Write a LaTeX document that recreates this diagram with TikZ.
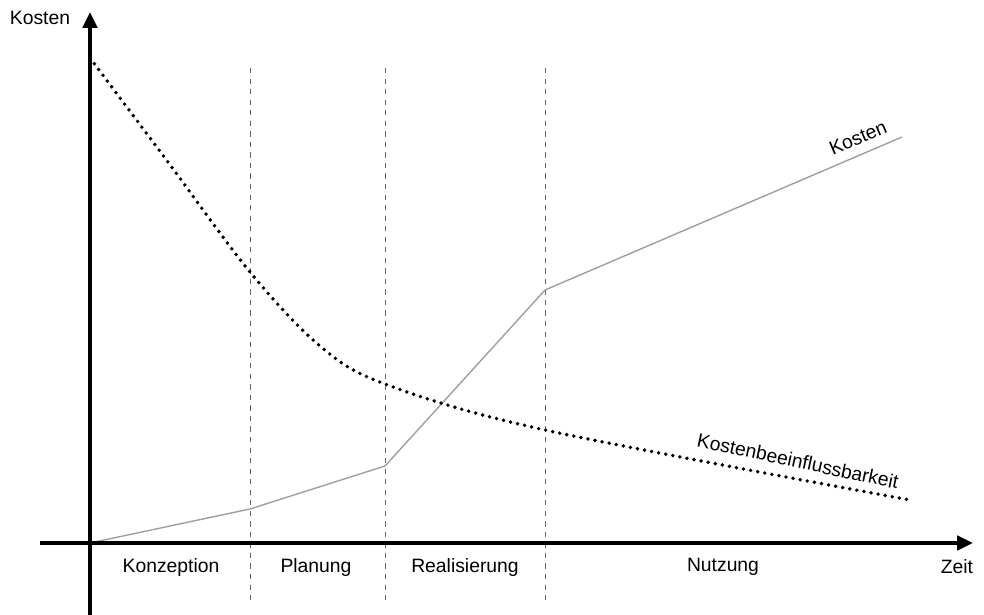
\documentclass[tikz,border=0pt]{standalone}
\usepackage{fontspec}
\setmainfont{Liberation Sans}
\usetikzlibrary{arrows.meta}
\begin{document}
\begin{tikzpicture}[x=0.02cm, y=-0.02cm, font=\fontsize{11}{13}\selectfont,
  axis/.style={line width=2.4pt, -{Triangle[length=9pt, width=8pt]}},
  phase/.style={gray!80!black, dashed, line width=0.5pt},
  cost/.style={gray!75, line width=0.8pt},
  infl/.style={line width=2.2pt, line cap=round, dash pattern=on 0pt off 4.1pt}]
  \useasboundingbox (0,0) rectangle (984,615);
  % Nodes
  \coordinate (o) at (90, 543);
  \coordinate (ytop) at (90, 12);
  \coordinate (ybot) at (90, 615);
  \coordinate (xleft) at (40, 543);
  \coordinate (xright) at (973, 543);
  \node (ylabel) at (40, 18) {Kosten};
  \node (xlabel) at (957, 567) {Zeit};
  \node (konz) at (171, 567) {Konzeption};
  \node (plan) at (316, 567) {Planung};
  \node (real) at (465, 567) {Realisierung};
  \node (nutz) at (723, 567) {Nutzung};
  % Phase borders
  \foreach \x/\n in {250/a, 385/b, 545/c} {
    \coordinate (\n-top) at (\x, 68);
    \coordinate (\n-bot) at (\x, 605);
    \draw[phase] (\n-top) -- (\n-bot);
  }
  % Cost curve
  \coordinate (k1) at (250, 509);
  \coordinate (k2) at (385, 466);
  \coordinate (k3) at (545, 290);
  \coordinate (k4) at (902, 137);
  \draw[cost] (o) -- (k1) -- (k2) -- (k3) -- (k4);
  \node (kosten) [rotate=23, inner sep=1pt] at (858, 138) {Kosten};
  % Influence curve
  \coordinate (e0) at (90, 58);
  \coordinate (e1) at (165, 158);
  \coordinate (e2) at (250, 272);
  \coordinate (e3) at (320, 346);
  \coordinate (e4) at (385, 384);
  \coordinate (e5) at (545, 430);
  \coordinate (e6) at (910, 500);
  \draw[infl] plot[smooth, tension=0.55] coordinates {(e0) (e1) (e2) (e3) (e4) (e5) (e6)};
  \node (infl) [rotate=-12, inner sep=1pt] at (798, 461) {Kostenbeeinflussbarkeit};
  % Arrow
  \draw[axis] (xleft) -- (xright);
  \draw[axis] (ybot) -- (ytop);
\end{tikzpicture}
\end{document}
